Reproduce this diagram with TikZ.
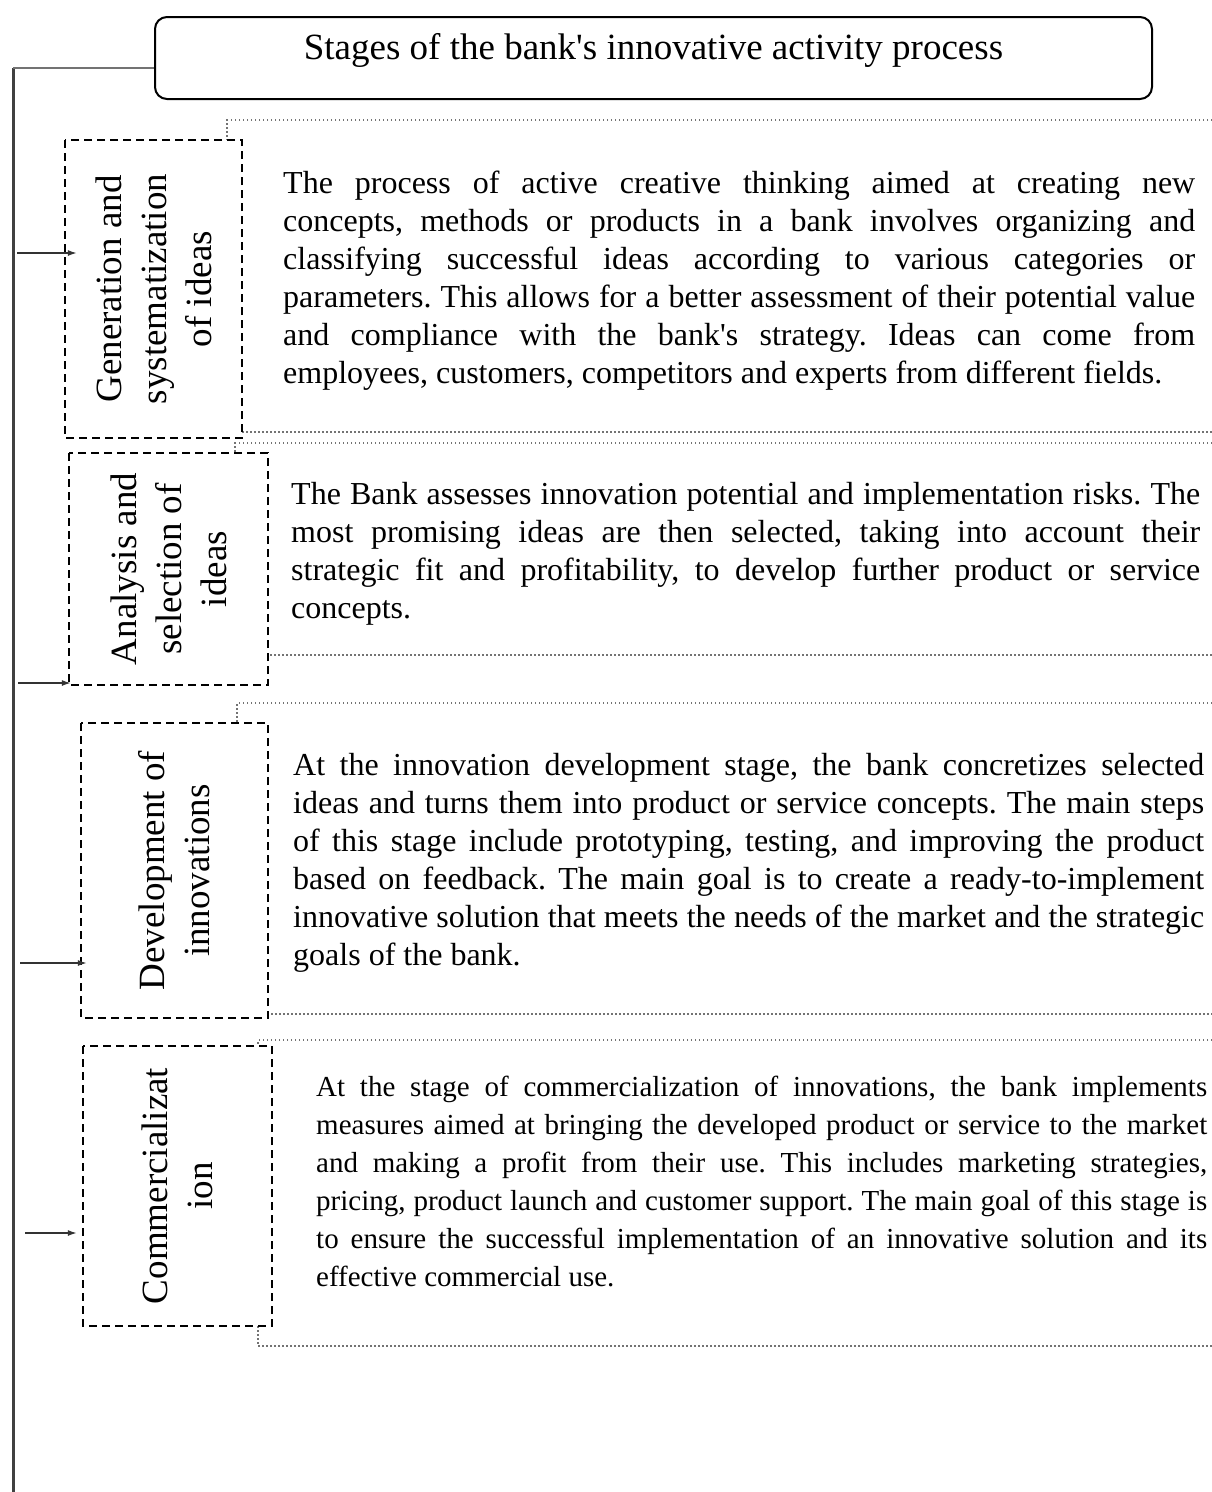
\documentclass[tikz,border=0pt]{standalone}
\usepackage{fontspec}
\setmainfont{Liberation Serif}
\usetikzlibrary{arrows.meta}

\newcommand{\jl}[1]{\makebox[\linewidth][s]{#1}\\}
\newcommand{\q}{\textquotesingle}
\frenchspacing

\tikzset{
    titlebox/.style={draw,line width=2pt,rounded corners=12pt,inner sep=0pt,
        minimum width=997pt,minimum height=82pt,text height=30pt,text depth=28pt,
        font=\fontsize{37}{45}\selectfont},
    stagebox/.style={draw,line width=2.2pt,dash pattern=on 8pt off 5pt,fill=white,
        rotate=90,align=center,inner sep=0pt,font=\fontsize{37}{45}\selectfont},
    infoframe/.style={draw=black!55,line width=1.2pt,dash pattern=on 1.5pt off 2.5pt},
    bodytext/.style={anchor=base west,inner sep=0pt,font=\fontsize{32}{38}\selectfont},
    spine/.style={draw=black!75,line width=3pt},
    feed/.style={draw=black!80,line width=1.5pt,-{Latex[length=9pt,width=6pt]}},
}

\begin{document}
\begin{tikzpicture}[x=1pt,y=-1pt]
\useasboundingbox (0,0) rectangle (1212,1492);

\node[titlebox] (title) at (653.5,58) {Stages of the bank\q s innovative activity process};

\coordinate (spinetop) at (13,68);
\coordinate (spinebot) at (13,1496);
\draw[spine] (spinebot) -- (spinetop);
\draw[spine,draw=black!55,line width=2pt] (spinetop) -- (spinetop -| title.west);

% dotted frames behind the stage boxes
\draw[infoframe] (1216,120) -| (227,432) -- (1216,432);
\draw[infoframe] (1216,443) -| (235,655) -- (1216,655);
\draw[infoframe] (1216,703) -| (237,1014) -- (1216,1014);
\draw[infoframe] (1216,1040) -| (258,1346) -- (1216,1346);

\node[stagebox,minimum width=298pt,minimum height=177pt] (stage1) at (153.5,289)
    {Generation and\\systematization\\of ideas};
\node[stagebox,minimum width=232pt,minimum height=199pt] (stage2) at (168.5,569)
    {Analysis and\\selection of\\ideas};
\node[stagebox,minimum width=295pt,minimum height=187pt] (stage3) at (174.5,870.5)
    {Development of\\innovations};
\node[stagebox,minimum width=280pt,minimum height=189pt] (stage4) at (177.5,1186)
    {Commercializat\\ion};

\node[bodytext] (txt1) at (283,193) {\parbox[t]{912pt}{%
    \jl{The process of active creative thinking aimed at creating new}
    \jl{concepts, methods or products in a bank involves organizing and}
    \jl{classifying successful ideas according to various categories or}
    \jl{parameters. This allows for a better assessment of their potential value}
    \jl{and compliance with the bank\q s strategy. Ideas can come from}
    employees, customers, competitors and experts from different fields.}};

\node[bodytext] (txt2) at (291,504) {\parbox[t]{909pt}{%
    \jl{The Bank assesses innovation potential and implementation risks. The}
    \jl{most promising ideas are then selected, taking into account their}
    \jl{strategic fit and profitability, to develop further product or service}
    concepts.}};

\node[bodytext] (txt3) at (293,775) {\parbox[t]{911pt}{%
    \jl{At the innovation development stage, the bank concretizes selected}
    \jl{ideas and turns them into product or service concepts. The main steps}
    \jl{of this stage include prototyping, testing, and improving the product}
    \jl{based on feedback. The main goal is to create a ready-to-implement}
    \jl{innovative solution that meets the needs of the market and the strategic}
    goals of the bank.}};

\node[bodytext,font=\fontsize{29}{38}\selectfont] (txt4) at (316,1096) {\parbox[t]{891pt}{%
    \jl{At the stage of commercialization of innovations, the bank implements}
    \jl{measures aimed at bringing the developed product or service to the market}
    \jl{and making a profit from their use. This includes marketing strategies,}
    \jl{pricing, product launch and customer support. The main goal of this stage is}
    \jl{to ensure the successful implementation of an innovative solution and its}
    effective commercial use.}};

\coordinate (in1) at (17,253);
\coordinate (in2) at (18,683);
\coordinate (in3) at (20,963);
\coordinate (in4) at (25,1233);
\draw[feed,shorten >=-13pt] (in1) -- (in1 -| stage1.north);
\draw[feed,shorten >=-3pt] (in2) -- (in2 -| stage2.north);
\draw[feed,shorten >=-7pt] (in3) -- (in3 -| stage3.north);
\draw[feed,shorten >=5pt] (in4) -- (in4 -| stage4.north);
\end{tikzpicture}
\end{document}
